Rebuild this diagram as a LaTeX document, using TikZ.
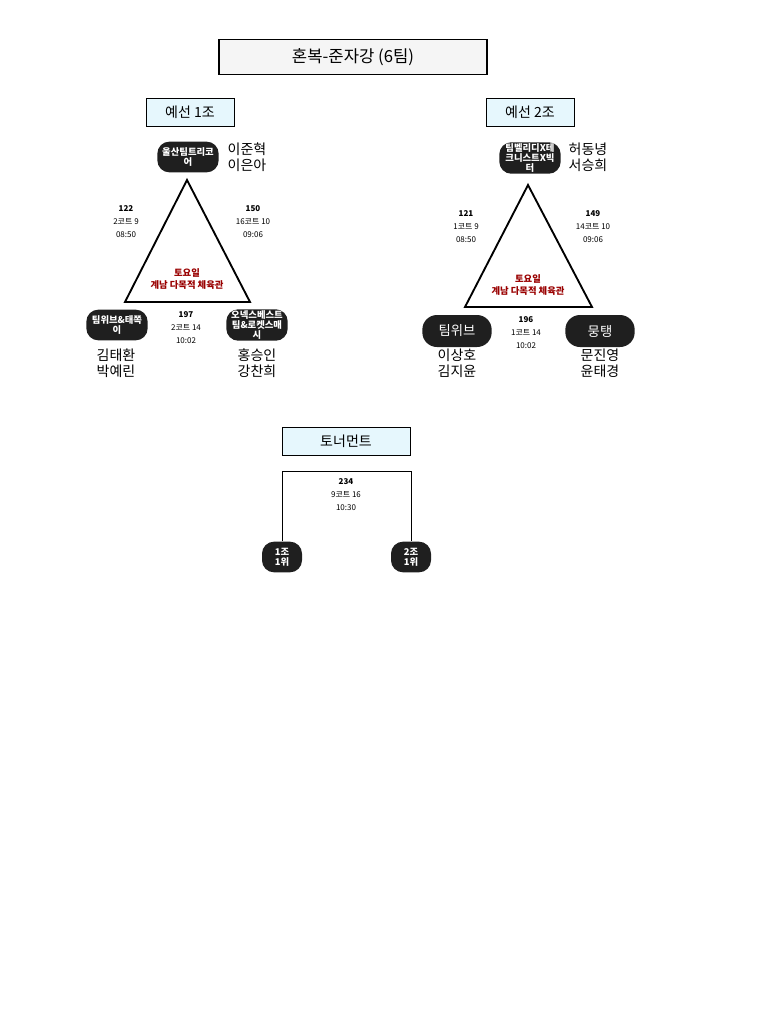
\documentclass[tikz,border=0pt]{standalone}
\usepackage{fontspec}
\setmainfont{Noto Sans CJK KR}
\begin{document}
\begin{tikzpicture}[x=0.75pt,y=-0.75pt,
 pill/.style={rounded corners=9pt,fill=black!88,text=white,font=\fontsize{7}{7.5}\selectfont\bfseries,align=center,minimum height=23pt,inner sep=1pt},
 bigpill/.style={pill,font=\fontsize{10}{11}\selectfont,minimum width=52pt,minimum height=24pt,rounded corners=11pt},
 grp/.style={draw,fill=cyan!10,minimum width=66pt,minimum height=21pt,font=\fontsize{10.5}{11}\selectfont},
 nm/.style={align=left,font=\fontsize{10.5}{12}\selectfont},
 nmc/.style={align=center,font=\fontsize{10.5}{12}\selectfont},
 mt/.style={align=center,font=\fontsize{6}{9.8}\selectfont},
 ctr/.style={align=center,text=red!60!black,font=\fontsize{7}{8.5}\selectfont\bfseries},
 edge/.style={line width=1.4pt}]
\useasboundingbox (0,0) rectangle (768,1024);
\node[draw,line width=0.8pt,fill=black!4,minimum width=201pt,minimum height=26pt,font=\fontsize{12.5}{13}\selectfont] (title) at (353,57) {혼복-준자강 (6팀)};
% group 1
\node[grp] (g1) at (190,112) {예선 1조};
\coordinate (a1) at (187,180); \coordinate (b1) at (125,302); \coordinate (c1) at (250,302);
\draw[edge] (a1) -- (b1) -- (c1) -- cycle;
\node[pill,minimum width=46pt] (t1) at (188,157) {울산팀트리코\\어};
\node[pill,minimum width=46pt] (l1) at (117,325) {팀위브\&태쪽\\이};
\node[pill,minimum width=46pt] (r1) at (257,325) {오넥스베스트\\팀\&로켓스매\\시};
\node[nm,anchor=west] (n1) at (223,157) {이준혁\\이은아};
\node[nmc] (n2) at (116,363) {김태환\\박예린};
\node[nmc] (n3) at (257,363) {홍승인\\강찬희};
\node[mt] (m1) at (126,222) {\textbf{122}\\2코트 9\\08:50};
\node[mt] (m2) at (253,222) {\textbf{150}\\16코트 10\\09:06};
\node[mt] (m3) at (186,328) {\textbf{197}\\2코트 14\\10:02};
\node[ctr] (c1t) at (187,279) {토요일\\계남 다목적 체육관};
% group 2
\node[grp] (g2) at (530,112) {예선 2조};
\coordinate (a2) at (528,185); \coordinate (b2) at (465,307); \coordinate (c2) at (592,307);
\draw[edge] (a2) -- (b2) -- (c2) -- cycle;
\node[pill,minimum width=46pt] (t2) at (530,158) {팀벨리디X테\\크니스트X빅\\터};
\node[bigpill] (l2) at (457,331) {팀위브};
\node[bigpill] (r2) at (600,331) {뭉탱};
\node[nm,anchor=west] (n4) at (564,157) {허동녕\\서승희};
\node[nmc] (n5) at (457,363) {이상호\\김지윤};
\node[nmc] (n6) at (600,363) {문진영\\윤태경};
\node[mt] (m4) at (466,227) {\textbf{121}\\1코트 9\\08:50};
\node[mt] (m5) at (593,227) {\textbf{149}\\14코트 10\\09:06};
\node[mt] (m6) at (526,333) {\textbf{196}\\1코트 14\\10:02};
\node[ctr] (c2t) at (528,285) {토요일\\계남 다목적 체육관};
% tournament
\node[grp,minimum width=96pt] (g3) at (346,441) {토너먼트};
\node[pill,minimum width=30pt] (p1) at (282,557) {1조\\1위};
\node[pill,minimum width=30pt] (p2) at (411,557) {2조\\1위};
\draw[line width=0.6pt] (p1.north) -- (282,471) -- (411,471) -- (p2.north);
\node[mt] (m7) at (346,495) {\textbf{234}\\9코트 16\\10:30};
\end{tikzpicture}
\end{document}
